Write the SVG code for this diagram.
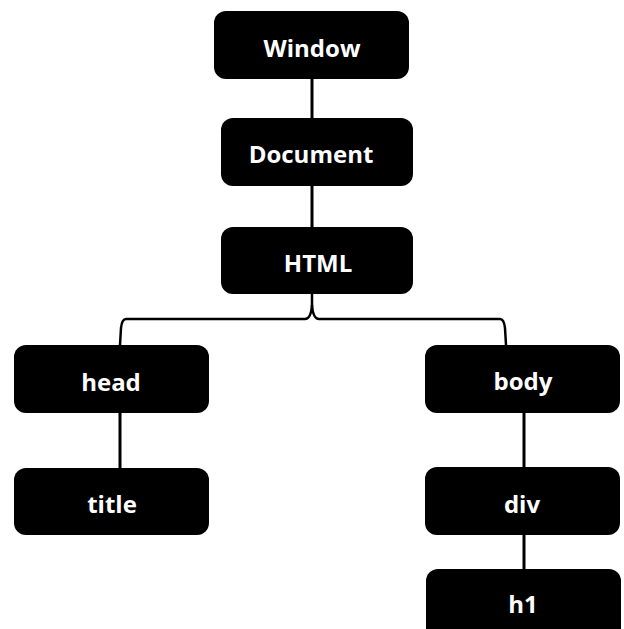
<svg xmlns="http://www.w3.org/2000/svg" width="624" height="629" viewBox="0 0 624 629">
<style>
.box{fill:#000;}
.lbl{fill:#fff;font-family:"Open Sans","Liberation Sans",sans-serif;font-weight:700;font-size:24px;text-anchor:middle;}
.edge{stroke:#000;stroke-width:3;fill:none;}
.brace{stroke:#000;stroke-width:2.5;fill:none;}
</style>
<rect width="624" height="629" fill="#fff"/>
<g id="connectors">
<line class="edge" x1="312" y1="79" x2="312" y2="118"/>
<line class="edge" x1="312" y1="186" x2="312" y2="227"/>
<path class="brace" d="M312,294 L312,305 Q311,319 305,319 L126,319 Q122,319 121,328 L120,345"/>
<path class="brace" d="M312,305 Q313,319 319,319 L500,319 Q504,319 505,328 L506,345"/>
<line class="edge" x1="120" y1="413" x2="120" y2="468"/>
<line class="edge" x1="524" y1="413" x2="524" y2="467"/>
<line class="edge" x1="524" y1="535" x2="524" y2="569"/>
</g>
<g id="window"><rect class="box" x="214" y="11" width="195" height="68" rx="12"/><text class="lbl" x="312" y="57">Window</text></g>
<g id="document"><rect class="box" x="221" y="118" width="192" height="68" rx="12"/><text class="lbl" x="311" y="163">Document</text></g>
<g id="html"><rect class="box" x="221" y="227" width="192" height="67" rx="12"/><text class="lbl" x="318" y="272">HTML</text></g>
<g id="head"><rect class="box" x="14" y="345" width="195" height="68" rx="12"/><text class="lbl" x="111" y="391">head</text></g>
<g id="title"><rect class="box" x="14" y="468" width="195" height="67" rx="12"/><text class="lbl" x="112" y="513">title</text></g>
<g id="body"><rect class="box" x="425" y="345" width="195" height="68" rx="12"/><text class="lbl" x="523" y="390">body</text></g>
<g id="div"><rect class="box" x="425" y="467" width="195" height="68" rx="12"/><text class="lbl" x="522" y="513">div</text></g>
<g id="h1"><rect class="box" x="426" y="569" width="195" height="75" rx="12"/><text class="lbl" x="523" y="613">h1</text></g>
</svg>
